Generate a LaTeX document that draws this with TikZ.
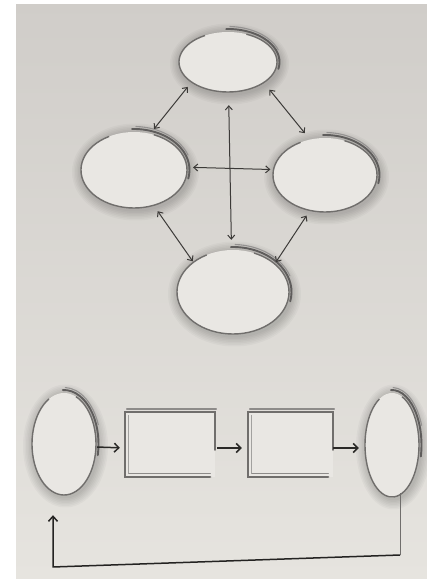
\documentclass[tikz,border=0pt]{standalone}
\usetikzlibrary{shapes.geometric,arrows.meta,calc}
\pgfdeclarelayer{bg}
\pgfsetlayers{bg,main}
\definecolor{paperTop}{RGB}{208,205,201}
\definecolor{paperBot}{RGB}{230,228,223}
\definecolor{paperlight}{RGB}{233,231,227}
\definecolor{ink}{RGB}{60,58,56}
\definecolor{pencil}{RGB}{112,110,108}
\tikzset{
 ell/.style={ellipse, draw=none, fill=paperlight, inner sep=0pt},
 box/.style={rectangle, draw=none, fill=paperlight, inner sep=0pt},
 arr/.style={draw=ink, line width=1pt, {Straight Barb[length=4pt,width=7pt]}-{Straight Barb[length=4pt,width=7pt]}},
 flow/.style={draw=ink!70!black, line width=1.5pt, -{Straight Barb[length=4.5pt,width=9pt]}},
 rim/.style={draw=pencil, line width=1.4pt},
 rimdark/.style={draw=pencil!85!black, line width=1.9pt, line cap=round},
 rimlight/.style={draw=pencil!75, line width=1.1pt, line cap=round},
 rstroke/.style={draw=pencil, line width=2.2pt, line cap=round},
 rstroke2/.style={draw=pencil!80, line width=1.5pt, line cap=round},
}
\newcommand\sketchell[3]{%
 \pgfmathsetmacro\rxa{#2+2.5}\pgfmathsetmacro\rya{#3+3}%
 \pgfmathsetmacro\rxb{#2+4.5}\pgfmathsetmacro\ryb{#3+5.5}%
 \begin{pgfonlayer}{bg}
 \foreach \k in {1,...,7}{
  \pgfmathsetmacro\sx{#2+1.5*\k}\pgfmathsetmacro\sy{#3+1.5*\k}
  \fill[black,opacity=0.028] ([shift={(1.5pt,-2pt)}]#1.center) ellipse[x radius=\sx pt, y radius=\sy pt];
 }
 \end{pgfonlayer}
 \draw[rim] (#1.center) ++(118:#2pt and #3pt) arc[start angle=118,end angle=428,x radius=#2pt,y radius=#3pt];
 \draw[rimdark] (#1.center) ++(92:\rxa pt and \rya pt) arc[start angle=92,end angle=-12,x radius=\rxa pt,y radius=\rya pt];
 \draw[rimlight] (#1.center) ++(88:\rxb pt and \ryb pt) arc[start angle=88,end angle=20,x radius=\rxb pt,y radius=\ryb pt];
}
\newcommand\sketchbox[1]{%
 \draw[rstroke] ($(#1.north east)+(0,-38)$) -- (#1.north east) -- (#1.north west) -- (#1.south west) -- ($(#1.south east)+(-5,0)$);
 \draw[rstroke2] ($(#1.north west)+(2,2.8)$) -- ($(#1.north east)+(1,2.8)$);
 \draw[rstroke2] ($(#1.south west)+(4,3.8)$) -- ($(#1.south east)+(-5,3.8)$);
 \draw[draw=pencil!65,line width=0.9pt] ($(#1.north west)+(3.2,-3)$) -- ($(#1.south west)+(3.2,4)$);
}
\begin{document}
\begin{tikzpicture}[x=1pt,y=1pt]
\useasboundingbox (0,0) rectangle (427,579);
% nodes
\node[ell,minimum width=98pt,minimum height=60pt] (T) at (228,517) {};
\node[ell,minimum width=106pt,minimum height=76pt] (L) at (134,409) {};
\node[ell,minimum width=104pt,minimum height=74pt] (R) at (325,404) {};
\node[ell,minimum width=112pt,minimum height=84pt] (B) at (233,287) {};
\node[ell,minimum width=64pt,minimum height=102pt] (B1) at (64,135) {};
\node[box,minimum width=90pt,minimum height=65pt] (R1) at (170,134.5) {};
\node[box,minimum width=85pt,minimum height=65pt] (R2) at (290.5,134.5) {};
\node[ell,minimum width=54pt,minimum height=104pt] (B2) at (392,134) {};
% paper
\begin{pgfonlayer}{bg}
\shade[top color=paperTop,bottom color=paperBot] (0,0) rectangle (427,579);
\fill[white] (0,0) rectangle (16,579);
\fill[white] (0,575) rectangle (427,579);
\end{pgfonlayer}
% outlines
\sketchell{T}{49}{30}
\sketchell{L}{53}{38}
\sketchell{R}{52}{37}
\sketchell{B}{56}{42}
\sketchell{B1}{32}{51}
\sketchell{B2}{27}{52}
\sketchbox{R1}
\sketchbox{R2}
% connectors upper diagram
\draw[arr,shorten <=6pt,shorten >=6pt] (T.209) -- (L.66);
\draw[arr,shorten <=9pt,shorten >=8pt] (T.330) -- (R.113);
\draw[arr,shorten <=13pt,shorten >=10pt] (T.271) -- (B.92);
\draw[arr,shorten <=6pt,shorten >=3pt] (L.3) -- (R.174);
\draw[arr,shorten <=7pt,shorten >=1pt] (L.299) -- (B.143);
\draw[arr,shorten <=6pt,shorten >=2pt] (R.247) -- (B.34);
% flow lower diagram
\draw[flow,shorten <=1pt,shorten >=5pt] ([yshift=-3pt]B1.east) -- ([yshift=-3.5pt]R1.west);
\draw[flow,shorten <=2pt,shorten >=6pt] ([yshift=-3.5pt]R1.east) -- ([yshift=-3.5pt]R2.west);
\draw[flow,shorten >=6pt] ([yshift=-3.5pt]R2.east) -- ([yshift=-3pt]B2.west);
% feedback
\coordinate (c1) at (400,24);
\coordinate (c2) at (53,12);
\draw[draw=pencil,line width=0.7pt] (B2.282 -| c1) -- (c1);
\draw[draw=ink!60!black,line width=1.5pt,line join=round,shorten >=20pt,-{Straight Barb[length=5pt,width=9pt]}] (c1) -- (c2) -- (c2 |- B1.south);
\end{tikzpicture}
\end{document}
